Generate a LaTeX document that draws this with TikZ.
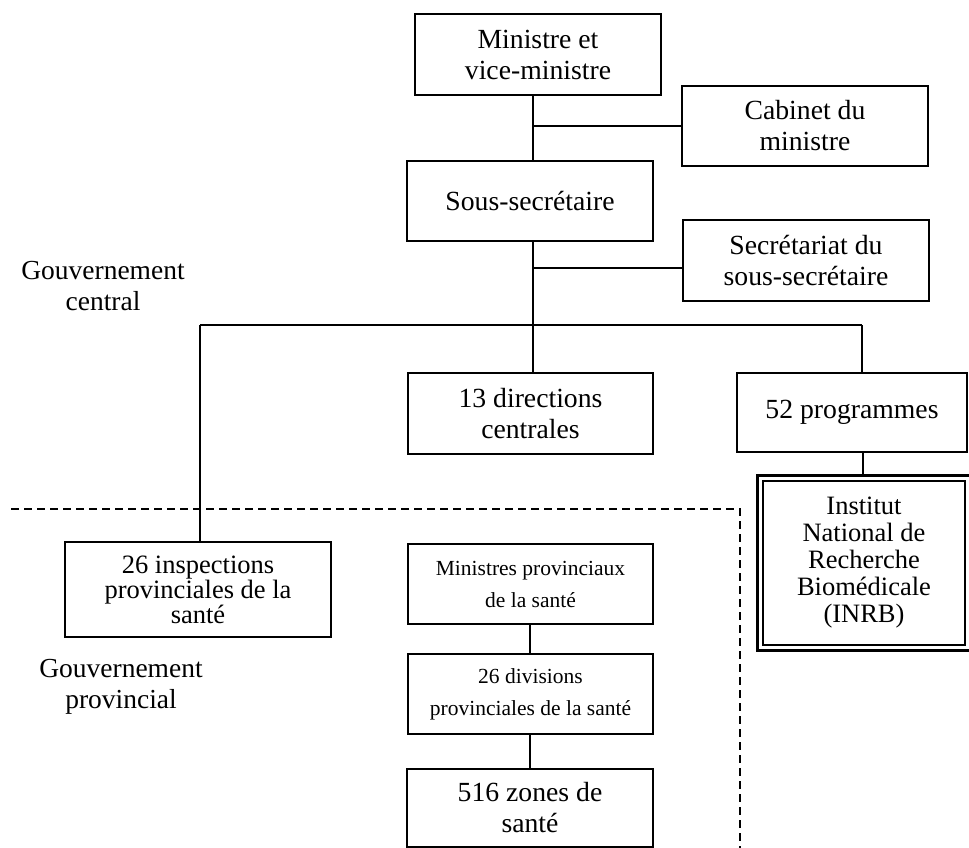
\documentclass[tikz,border=0pt]{standalone}
\usepackage{fontspec}
\setmainfont{Liberation Serif}
\begin{document}
\begin{tikzpicture}[x=1pt,y=-1pt,
  box/.style={draw, line width=1.5pt, inner sep=0pt, align=center,
    font=\fontsize{27.7}{31}\selectfont},
  smallbox/.style={box, font=\fontsize{21.5}{32}\selectfont},
  link/.style={line width=2.4pt},
  thinlink/.style={line width=1.4pt},
  sep/.style={line width=1.3pt, dash pattern=on 8pt off 5pt},
  label/.style={align=center, inner sep=0pt, font=\fontsize{27.5}{31}\selectfont}]
\useasboundingbox (0,0) rectangle (969,848);

% central government
\node[box, minimum width=246pt, minimum height=81pt] (min) at (538,54.5) {Ministre et\\vice-ministre};
\node[box, minimum width=246pt, minimum height=80pt] (cab) at (805,126) {Cabinet du\\ministre};
\node[box, minimum width=246pt, minimum height=80pt] (sous) at (530,201) {Sous-secrétaire};
\node[box, minimum width=246pt, minimum height=81pt] (sec) at (806,260.5) {Secrétariat du\\sous-secrétaire};
\node[box, minimum width=245pt, minimum height=81pt] (dir) at (530.5,413.5) {13 directions\\centrales};
\node[box, minimum width=230pt, minimum height=79pt] (prog) at (852,412.5) {52 programmes};
\node[box, line width=1.2pt, minimum width=202pt, minimum height=164pt,
  font=\fontsize{26.5}{27}\selectfont] (inrb) at (864,563) {Institut\\National de\\Recherche\\Biomédicale\\(INRB)};
\draw[line width=2.6pt] ([xshift=-5pt,yshift=5pt]inrb.north west) rectangle ([xshift=5pt,yshift=-5pt]inrb.south east);

% provincial government
\node[box, minimum width=266pt, minimum height=95pt,
  font=\fontsize{26.5}{24}\selectfont] (insp) at (198,589.5) {26 inspections\\provinciales de la\\santé};
\node[smallbox, minimum width=245pt, minimum height=80pt] (mp) at (530.5,584) {Ministres provinciaux\\de la santé};
\node[smallbox, minimum width=245pt, minimum height=80pt] (div) at (530.5,694) {26 divisions\\provinciales de la santé};
\node[box, minimum width=246pt, minimum height=78pt] (zones) at (530,808) {516 zones de\\santé};

% side labels
\node[label] (gc) at (103,286) {Gouvernement\\central};
\node[label] (gp) at (121,687) {Gouvernement\\provincial};

% hierarchy lines
\coordinate (trunk) at (533,0);
\coordinate (j2) at (533,268);
\coordinate (bar) at (533,325);
\coordinate (barL) at (200,325);
\coordinate (barR) at (862,325);
\draw[link] (min.south -| trunk) -- (sous.north -| trunk);
\draw[link] (trunk |- cab.west) -- (cab.west);
\draw[link] (sous.south -| trunk) -- (bar);
\draw[link] (j2) -- (j2 -| sec.west);
\draw[link] (barL) -- (barR);
\draw[link] (bar) -- (dir.north -| trunk);
\draw[link] (barL) -- (barL |- insp.north);
\draw[thinlink] (barR) -- (barR |- prog.north);
\draw[thinlink] (prog.south -| 863,0) -- ([yshift=5pt]inrb.north -| 863,0);
\draw[link] (mp.south -| 530,0) -- (div.north -| 530,0);
\draw[link] (div.south -| 530,0) -- (zones.north -| 530,0);

% boundary between central and provincial levels
\coordinate (dL) at (11,509);
\coordinate (dC) at (740,509);
\coordinate (dB) at (740,848);
\draw[sep] (dL) -- (dC) -- (dB);
\end{tikzpicture}
\end{document}
